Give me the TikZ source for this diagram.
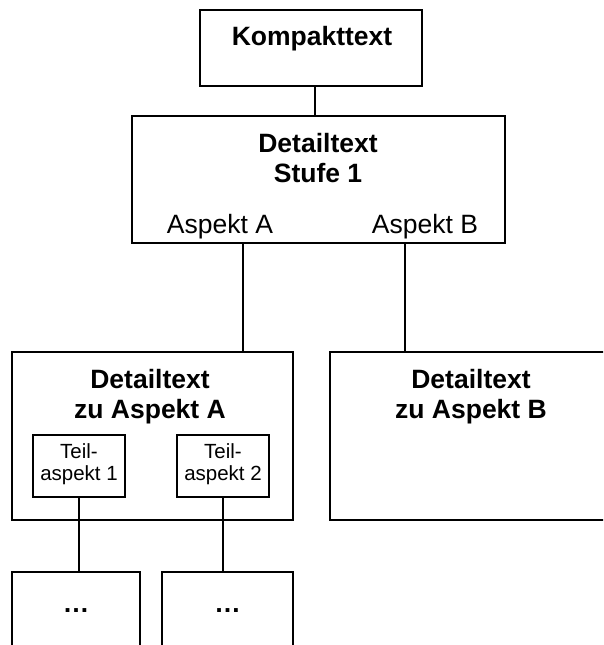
\documentclass[tikz,border=0pt]{standalone}
\usepackage{fontspec}
\setmainfont{Liberation Sans}
\begin{document}
\begin{tikzpicture}[x=1pt,y=-1pt,
  box/.style={draw=black, line width=1.4pt, rectangle, inner sep=0pt, outer sep=0pt},
  big/.style={font=\fontsize{26.5}{30}\selectfont\bfseries, inner sep=0pt, anchor=base, align=center},
  plain/.style={font=\fontsize{26.5}{30}\selectfont, inner sep=0pt, anchor=base},
  small/.style={font=\fontsize{20.5}{22}\selectfont, inner sep=0pt, anchor=base, align=center},
  link/.style={line width=1.4pt}]
\useasboundingbox (0,0) rectangle (603,645);
\clip (0,0) rectangle (603,645);

% boxes
\node[box, minimum width=222pt, minimum height=76pt] (kompakt) at (311,48) {};
\node[box, minimum width=373pt, minimum height=127pt] (stufe) at (318.5,179.5) {};
\node[box, minimum width=281pt, minimum height=168pt] (detA) at (152.5,436) {};
\node[box, minimum width=282pt, minimum height=168pt] (detB) at (471,436) {};
\node[box, minimum width=92pt, minimum height=62pt] (teil1) at (79,466) {};
\node[box, minimum width=92pt, minimum height=62pt] (teil2) at (223,466) {};
\node[box, minimum width=128pt, minimum height=130pt] (more1) at (76,637) {};
\node[box, minimum width=131pt, minimum height=130pt] (more2) at (227.5,637) {};

% texts (multi-line nodes sit on the baseline of their last line)
\node[big] (tk) at (312,45) {Kompakttext};
\node[big] (ts) at (318,182) {Detailtext\\Stufe 1};
\node[plain] (ta) at (220,233) {Aspekt A};
\node[plain] (tb) at (425,233) {Aspekt B};
\node[big] (tA) at (150,418) {Detailtext\\zu Aspekt A};
\node[big] (tB) at (471,418) {Detailtext\\zu Aspekt B};
\node[small] (t1) at (79,480) {Teil-\\aspekt 1};
\node[small] (t2) at (223,480) {Teil-\\aspekt 2};
\node[big] (d1) at (76,612) {…};
\node[big] (d2) at (227.5,612) {…};

% connectors
\draw[link] ([xshift=4pt]kompakt.south) -- ([xshift=4pt]kompakt.south |- stufe.north);
\draw[link] ([xshift=-75.5pt]stufe.south) -- ([xshift=-75.5pt]stufe.south |- detA.north);
\draw[link] ([xshift=86.5pt]stufe.south) -- ([xshift=86.5pt]stufe.south |- detB.north);
\draw[link] (teil1.south) -- (teil1.south |- more1.north);
\draw[link] (teil2.south) -- (teil2.south |- more2.north);
\end{tikzpicture}
\end{document}
